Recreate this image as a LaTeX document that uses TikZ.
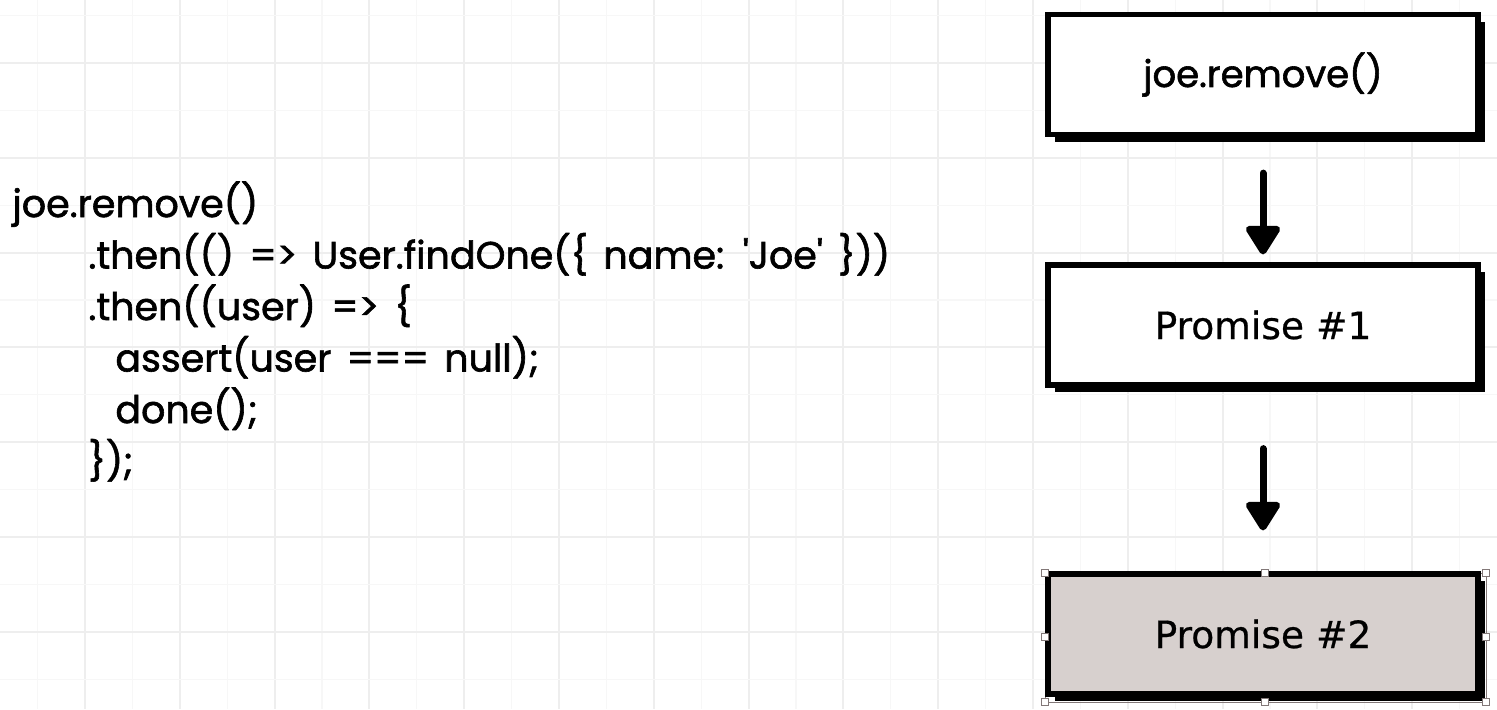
\documentclass[tikz,border=0pt]{standalone}
\usepackage{fontspec}
\setmainfont{Poppins}
\newfontfamily\codefont{Poppins}[FakeBold=1.6,WordSpace=1.5]
\newfontfamily\boxfont{DejaVu Sans}[FakeBold=0.6]
\usetikzlibrary{arrows.meta,shadows}
\definecolor{gridmajor}{RGB}{238,238,238}
\definecolor{gridminor}{RGB}{247,247,247}
\definecolor{selfill}{RGB}{215,208,206}
\definecolor{handlegray}{RGB}{130,120,120}
\newcommand{\sq}{\symbol{39}}
\begin{document}
\begin{tikzpicture}[x=0.5pt,y=-0.5pt,
  codeline/.style={anchor=base west, inner sep=0pt, font=\codefont\fontsize{19}{21}\selectfont},
  flowbox/.style={draw=black, line width=2.6pt, fill=white, minimum width=215pt, minimum height=60pt, inner sep=0pt,
    general shadow={fill=black, shadow xshift=3.5pt, shadow yshift=-3.5pt}},
  codebox/.style={font=\codefont\fontsize{18.5}{20}\selectfont},
  sansbox/.style={font=\boxfont\fontsize{18.8}{20}\selectfont},
  flowarrow/.style={line width=3.5pt, line cap=round, -{Triangle[length=16pt,width=19pt,round]}},
  handle/.style={draw=handlegray, fill=white, line width=0.5pt, minimum size=3.5pt, inner sep=0pt}
]
\useasboundingbox[fill=white] (0,0) rectangle (1497,709);
% grid
\foreach \k in {0,...,16} {
  \draw[gridminor, line width=0.6pt] ({37.6+94.8*\k},0) -- ({37.6+94.8*\k},709);
  \draw[gridmajor, line width=1pt] ({85+94.8*\k},0) -- ({85+94.8*\k},709);
}
\foreach \k in {0,...,7} {
  \draw[gridminor, line width=0.6pt] (0,{15.6+94.8*\k}) -- (1497,{15.6+94.8*\k});
  \draw[gridmajor, line width=1pt] (0,{63+94.8*\k}) -- (1497,{63+94.8*\k});
}
% code
\node[codeline] (c1) at (12,217) {joe.remove()};
\node[codeline] (c2) at (88,268.5) {.then(() => User.findOne(\{ name: \sq Joe\sq{} \}))};
\node[codeline] (c3) at (88,320) {.then((user) => \{};
\node[codeline] (c4) at (115,371.5) {assert(user === null);};
\node[codeline] (c5) at (115,423) {done();};
\node[codeline] (c6) at (88,474.5) {\});};
% boxes
\node[flowbox, codebox] (b1) at (1263,74.5) {joe.remove()};
\node[flowbox, sansbox] (b2) at (1263,325) {Promise \#1};
\draw[handlegray, line width=0.5pt] (1045,573) rectangle (1486,702);
\node[flowbox, sansbox, fill=selfill] (b3) at (1263,634) {Promise \#2};
% arrows
\draw[flowarrow] ([yshift=-18pt]b1.south) -- ([yshift=4pt]b2.north);
\draw[flowarrow] ([yshift=-30.5pt]b2.south) -- ([yshift=20.5pt]b3.north);
% selection handles
\foreach \n/\x/\y in {h1/1045/573, h2/1265/573, h3/1486/573, h4/1045/637, h5/1486/637, h6/1045/702, h7/1265/702, h8/1486/702}
  \node[handle] (\n) at (\x,\y) {};
\end{tikzpicture}
\end{document}
